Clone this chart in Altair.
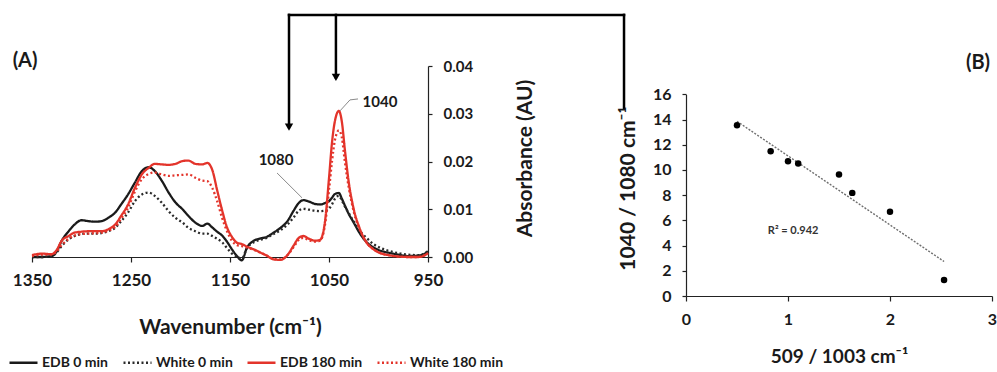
import altair as alt
import pandas as pd

# ---------------- Panel A data: FTIR spectra ----------------
wavenumber = [1350, 1340, 1330, 1325, 1320, 1313, 1307, 1300, 1293, 1286,
              1280, 1273, 1266, 1260, 1253, 1246, 1239, 1232, 1226, 1219,
              1212, 1205, 1198, 1192, 1185, 1178, 1173, 1168, 1163, 1158,
              1153, 1148, 1143, 1138, 1133, 1126, 1119, 1113, 1106, 1099,
              1092, 1086, 1081, 1076, 1070, 1064, 1059, 1054, 1050, 1047,
              1044, 1040, 1037, 1034, 1030, 1025, 1019, 1012, 1005, 998,
              990, 980, 970, 960, 955, 950]

edb_0 = [0, 0, 0.0002, 0.0012, 0.0034, 0.0054, 0.0068, 0.0077, 0.0075, 0.0074,
         0.0075, 0.0082, 0.0093, 0.011, 0.0131, 0.0156, 0.018, 0.0188, 0.018, 0.016,
         0.0135, 0.0114, 0.01, 0.0086, 0.0072, 0.0065, 0.007, 0.0062, 0.0053, 0.0045,
         0.0032, 0.0016, 0.0002, -0.0007, 0.0019, 0.0034, 0.0039, 0.0042, 0.0051, 0.0061,
         0.0075, 0.0096, 0.0112, 0.0119, 0.0116, 0.0111, 0.011, 0.0113, 0.0117, 0.0124,
         0.0132, 0.0134, 0.0122, 0.0108, 0.009, 0.0072, 0.005, 0.0031, 0.002, 0.0013,
         0.0009, 0.0005, 0.0002, 0.0003, 0.0005, 0.0012]

white_0 = [0, 0, 0.0002, 0.001, 0.0023, 0.0037, 0.0044, 0.0048, 0.0049, 0.0049,
           0.005, 0.0054, 0.0061, 0.0075, 0.0093, 0.0117, 0.0131, 0.0135, 0.0128, 0.0114,
           0.0096, 0.0082, 0.0072, 0.0061, 0.0054, 0.0049, 0.0049, 0.0044, 0.0038, 0.0031,
           0.0019, 0.0007, 0.0001, -0.0003, 0.0018, 0.0031, 0.0036, 0.004, 0.0048, 0.0056,
           0.0068, 0.0082, 0.0096, 0.0101, 0.0099, 0.0097, 0.0096, 0.0097, 0.0101, 0.011,
           0.0122, 0.0128, 0.0118, 0.0106, 0.0092, 0.0074, 0.0055, 0.004, 0.0027, 0.0019,
           0.0013, 0.0008, 0.0005, 0.0004, 0.0006, 0.0012]

edb_180 = [0.0004, 0.0007, 0.0006, 0.0015, 0.0034, 0.0044, 0.0051, 0.0053, 0.0054, 0.0054,
           0.0054, 0.0058, 0.0068, 0.0086, 0.011, 0.0145, 0.0173, 0.0187, 0.0195, 0.0194,
           0.0193, 0.0195, 0.0201, 0.0202, 0.0195, 0.0194, 0.0197, 0.0183, 0.014, 0.0098,
           0.0062, 0.0042, 0.003, 0.0027, 0.0022, 0.0016, 0.0009, 0.0003, -0.0005, -0.0006,
           0.0004, 0.0023, 0.0039, 0.0044, 0.0038, 0.0034, 0.0036, 0.0075, 0.0165, 0.0239,
           0.0285, 0.0306, 0.0283, 0.0225, 0.0156, 0.01, 0.006, 0.003, 0.0016, 0.0008,
           0.0004, 0.0001, 0, 0, 0.0002, 0.0008]

white_180 = [0.0002, 0.0005, 0.0005, 0.0012, 0.0025, 0.0038, 0.0045, 0.0048, 0.0049, 0.005,
             0.0051, 0.0055, 0.0063, 0.008, 0.0103, 0.0137, 0.0163, 0.0174, 0.0177, 0.0173,
             0.017, 0.0171, 0.0172, 0.0173, 0.0166, 0.016, 0.0159, 0.0145, 0.0117, 0.0082,
             0.0054, 0.0034, 0.0025, 0.0023, 0.002, 0.0015, 0.0009, 0.0003, -0.0004, -0.0005,
             0.0004, 0.002, 0.0035, 0.004, 0.0035, 0.0032, 0.0034, 0.0068, 0.014, 0.02,
             0.0245, 0.0265, 0.025, 0.02, 0.0145, 0.0095, 0.0058, 0.003, 0.0016, 0.0008,
             0.0004, 0.0001, 0, 0, 0.0002, 0.0008]

series_names = ["EDB 0 min", "White 0 min", "EDB 180 min", "White 180 min"]
series_colors = ["#1a1a1a", "#2a2a2a", "#e3342b", "#e3342b"]
series_dash = [[1, 0], [2, 2.5], [1, 0], [2, 2.5]]

wn_ticks = [1350, 1250, 1150, 1050, 950]
abs_ticks = [0.0, 0.01, 0.02, 0.03, 0.04]

# peak labels (wavenumber, absorbance of label centre)
peak_labels = ["1080", "1040"]
peak_label_wn = [1103.5, 998.5]
peak_label_abs = [0.0203, 0.0325]
# leader lines
leader_1080_wn = [1102.5, 1077.3]
leader_1080_abs = [0.0176, 0.0124]
leader_1040_wn = [1038.9, 1028.8, 1020.7]
leader_1040_abs = [0.0306, 0.0329, 0.0331]

# connector arrows (wavenumber units / absorbance units of panel A)
arrow_wn = [1090.4, 1043.0]
arrow_head_abs = [0.0272, 0.0376]
connector_top_abs = 0.0507
connector_end_wn = 752.0
connector_end_abs = 0.0312

# ---------------- Panel B data ----------------
ratio_509_1003 = [0.5, 0.83, 1.0, 1.1, 1.5, 1.63, 2.0, 2.53]
ratio_1040_1080 = [13.54, 11.49, 10.69, 10.51, 9.64, 8.18, 6.68, 1.27]
b_x_ticks = [0, 1, 2, 3]
b_y_ticks = [0, 2, 4, 6, 8, 10, 12, 14, 16]

FONT = "Lato"
INK = "#1a1a1a"

spectra = pd.concat([
    pd.DataFrame({"wavenumber": wavenumber, "absorbance": vals, "series": name, "order": i})
    for i, (name, vals) in enumerate(zip(series_names, [edb_0, white_0, edb_180, white_180]))
])

xA_scale = alt.Scale(domain=[950, 1350], reverse=True, nice=False, zero=False)
yA_scale = alt.Scale(domain=[0, 0.04], nice=False, zero=False)

xA_axis = alt.Axis(values=wn_ticks, format="d", title="Wavenumber (cm⁻¹)",
                   tickSize=5, labelPadding=10, labelFontSize=17, labelFlush=False,
                   labelOverlap=False,
                   titleFontSize=21, titleY=70, titleBaseline="middle", grid=False)
yA_axis = alt.Axis(orient="right", values=abs_ticks, format=".2f", title="Absorbance (AU)",
                   tickSize=4, labelPadding=11, labelFontSize=15, labelFlush=False,
                   labelOverlap=False,
                   titleFontSize=21, titleAngle=270, titleX=97, titleY=92,
                   titleBaseline="middle", titleAlign="center", grid=False)

legend = alt.Legend(orient="none", legendX=-24, legendY=281, direction="horizontal",
                    columns=4, title=None, symbolType="stroke", symbolSize=784,
                    symbolStrokeWidth=2.5, labelFont=FONT, labelFontSize=14,
                    labelFontWeight="bold", labelColor=INK, columnPadding=9,
                    labelOffset=3, padding=0)

lines = alt.Chart(spectra).mark_line(strokeWidth=2.3, interpolate="monotone", clip=False).encode(
    x=alt.X("wavenumber:Q", scale=xA_scale, axis=xA_axis),
    y=alt.Y("absorbance:Q", scale=yA_scale, axis=yA_axis),
    color=alt.Color("series:N", scale=alt.Scale(domain=series_names, range=series_colors), legend=legend),
    strokeDash=alt.StrokeDash("series:N", scale=alt.Scale(domain=series_names, range=series_dash), legend=legend),
    order=alt.Order("order:Q"),
    detail="series:N",
)

lab_df = pd.DataFrame({"wn": peak_label_wn, "ab": peak_label_abs, "t": peak_labels})
peak_text = alt.Chart(lab_df).mark_text(font=FONT, fontSize=15, fontWeight="bold", color=INK).encode(
    x=alt.X("wn:Q", scale=xA_scale), y=alt.Y("ab:Q", scale=yA_scale), text="t:N")

lead_df = pd.concat([
    pd.DataFrame({"wn": leader_1080_wn, "ab": leader_1080_abs, "g": "a"}),
    pd.DataFrame({"wn": leader_1040_wn, "ab": leader_1040_abs, "g": "b"}),
])
leaders = alt.Chart(lead_df).mark_line(color="#8a8a8a", strokeWidth=1).encode(
    x=alt.X("wn:Q", scale=xA_scale), y=alt.Y("ab:Q", scale=yA_scale), detail="g:N")

vert_df = pd.DataFrame({
    "wn": arrow_wn + [connector_end_wn],
    "top": [connector_top_abs] * 3,
    "bot": arrow_head_abs + [connector_end_abs],
})
verticals = alt.Chart(vert_df).mark_rule(color="black", strokeWidth=2.5, strokeCap="square").encode(
    x=alt.X("wn:Q", scale=xA_scale), y=alt.Y("top:Q", scale=yA_scale), y2="bot:Q")

horiz_df = pd.DataFrame({"a": [arrow_wn[0]], "b": [connector_end_wn], "y": [connector_top_abs]})
horizontal = alt.Chart(horiz_df).mark_rule(color="black", strokeWidth=2.5, strokeCap="square").encode(
    x=alt.X("a:Q", scale=xA_scale), x2="b:Q", y=alt.Y("y:Q", scale=yA_scale))

head_df = pd.DataFrame({"wn": arrow_wn, "ab": arrow_head_abs})
heads = alt.Chart(head_df).mark_point(shape="triangle-down", filled=True, color="black",
                                      size=70, opacity=1).encode(
    x=alt.X("wn:Q", scale=xA_scale), y=alt.Y("ab:Q", scale=yA_scale))

tagA = alt.Chart(pd.DataFrame({"wn": [1357], "ab": [0.041], "t": ["(A)"]})).mark_text(
    font=FONT, fontSize=20, fontWeight="bold", color=INK).encode(
    x=alt.X("wn:Q", scale=xA_scale), y=alt.Y("ab:Q", scale=yA_scale), text="t:N")

panelA = alt.layer(lines, leaders, peak_text, verticals, horizontal, heads, tagA).properties(
    width=396, height=191)

# ---------------- Panel B ----------------
pts = pd.DataFrame({"r1": ratio_509_1003, "r2": ratio_1040_1080})
xB_scale = alt.Scale(domain=[0, 3], nice=False, zero=False)
yB_scale = alt.Scale(domain=[0, 16], range=[230, 28.3], nice=False, zero=False)

xB_axis = alt.Axis(values=b_x_ticks, format="d", title="509 / 1003 cm⁻¹", tickSize=5,
                   labelPadding=10, labelFontSize=16, labelFlush=False, labelOverlap=False,
                   titleFontSize=19, titleY=60, titleBaseline="middle", grid=False)
yB_axis = alt.Axis(values=b_y_ticks, format="d", title="1040 / 1080 cm⁻¹", tickSize=4,
                   labelPadding=11, labelFontSize=16, labelFlush=False, labelOverlap=False,
                   titleFontSize=21, titleAngle=270,
                   titleX=-57.5, titleY=122, titleBaseline="middle", titleAlign="center",
                   grid=False)

points = alt.Chart(pts).mark_circle(size=42, color="black", opacity=1).encode(
    x=alt.X("r1:Q", scale=xB_scale, axis=xB_axis),
    y=alt.Y("r2:Q", scale=yB_scale, axis=yB_axis))

trend = alt.Chart(pts).transform_regression("r1", "r2", extent=[0.5, 2.53]).mark_line(
    color="#6e6e6e", strokeWidth=1.4, strokeDash=[2, 1.5]).encode(
    x=alt.X("r1:Q", scale=xB_scale, axis=xB_axis),
    y=alt.Y("r2:Q", scale=yB_scale, axis=yB_axis))

r2_text = alt.Chart(pd.DataFrame({"x": [1.05], "y": [5.15], "t": ["R² = 0.942"]})).mark_text(
    font=FONT, fontSize=11, fontWeight="bold", color="#333333").encode(
    x=alt.X("x:Q", scale=xB_scale, axis=xB_axis),
    y=alt.Y("y:Q", scale=yB_scale, axis=yB_axis), text="t:N")

tagB = alt.Chart(pd.DataFrame({"x": [2.863], "y": [18.46], "t": ["(B)"]})).mark_text(
    font=FONT, fontSize=20, fontWeight="bold", color=INK).encode(
    x=alt.X("x:Q", scale=xB_scale, axis=xB_axis),
    y=alt.Y("y:Q", scale=yB_scale, axis=yB_axis), text="t:N")

panelB = alt.layer(trend, points, r2_text, tagB).properties(width=306, height=230)

chart = alt.hconcat(panelA, panelB, spacing=258, bounds="flush").properties(
    padding={"left": 8, "top": 13, "right": 0, "bottom": 0},
    background="white",
).configure_view(stroke=None).configure_axis(
    labelFont=FONT, titleFont=FONT, labelFontWeight="bold", titleFontWeight="bold",
    labelColor=INK, titleColor=INK, domainColor="#222222", tickColor="#222222",
    domainWidth=1.2, tickWidth=1.2, labelOverlap=False,
)

chart.save("out.html", embed_options={"renderer": "svg", "actions": False})
